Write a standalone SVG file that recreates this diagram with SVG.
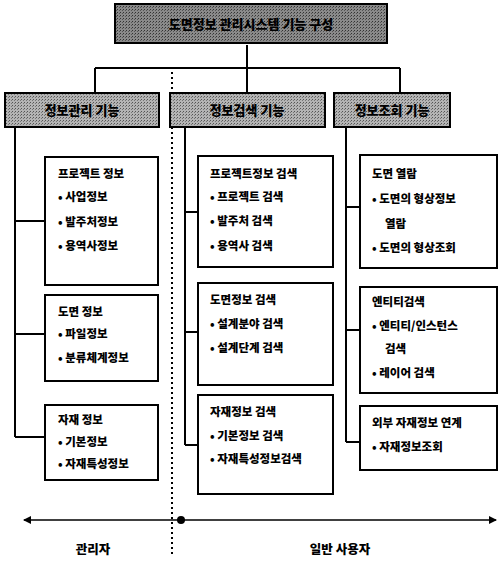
<svg xmlns="http://www.w3.org/2000/svg" width="500" height="561" viewBox="0 0 500 561">
<defs>
<pattern id="dots" width="3" height="3" patternUnits="userSpaceOnUse">
<rect width="3" height="3" fill="#b4b4b4"/>
<rect x="0" y="0" width="1" height="1" fill="#555"/>
<rect x="2" y="1" width="1" height="1" fill="#777"/>
</pattern>
<pattern id="dots2" width="3" height="3" patternUnits="userSpaceOnUse">
<rect width="3" height="3" fill="#8a8a8a"/>
<rect x="0" y="0" width="1" height="1" fill="#333"/>
<rect x="2" y="1" width="1" height="1" fill="#555"/>
</pattern>
<marker id="arr" markerWidth="8" markerHeight="8" refX="7" refY="4" orient="auto-start-reverse" markerUnits="userSpaceOnUse">
<path d="M0,0 L8,4 L0,8 Z" fill="#000"/>
</marker>
</defs>
<style>
text{font-family:"Noto Sans CJK KR","Noto Sans",sans-serif;font-weight:900;fill:#000}
.t{font-size:11.5px}
.h{font-size:13px;fill:#000}
.box{fill:#fff;stroke:#000;stroke-width:2}
.hdr{fill:url(#dots);stroke:#000;stroke-width:2}
.ln{fill:none;stroke:#000;stroke-width:2}
.lab{font-size:12.5px}
</style>

<g id="connectors">
<path class="ln" d="M247,45 V68 M95,68 H400 M95,68 V93 M247,68 V93 M400,68 V93"/>
<path class="ln" d="M15,127 V437 M15,221 H45 M15,334 H45 M15,437 H45"/>
<path class="ln" d="M185,127 V445 M185,212 H198 M185,332 H198 M185,445 H198"/>
<path class="ln" d="M346,127 V442 M346,207 H360 M346,330 H360 M346,442 H360"/>
<line x1="172" y1="72" x2="172" y2="556" stroke="#000" stroke-width="2" stroke-dasharray="2,3"/>
<line x1="24" y1="520" x2="496" y2="520" stroke="#000" stroke-width="1.5" marker-start="url(#arr)" marker-end="url(#arr)"/>
<circle cx="181" cy="520" r="4" fill="#000"/>
</g>

<g id="title">
<rect x="115" y="4" width="272" height="39" fill="url(#dots2)" stroke="#000" stroke-width="2"/>
<text class="h" x="251" y="29" text-anchor="middle">도면정보 관리시스템 기능 구성</text>
</g>

<g id="hdr-left">
<rect class="hdr" x="5" y="93" width="154" height="34"/>
<text class="h" x="82" y="115" text-anchor="middle">정보관리 기능</text>
</g>
<g id="hdr-mid">
<rect class="hdr" x="170" y="93" width="155" height="34"/>
<text class="h" x="247" y="115" text-anchor="middle">정보검색 기능</text>
</g>
<g id="hdr-right">
<rect class="hdr" x="334" y="93" width="116" height="34"/>
<text class="h" x="392" y="115" text-anchor="middle">정보조회 기능</text>
</g>

<g id="l1">
<rect class="box" x="45" y="157" width="113" height="128"/>
<text class="t" x="58" y="178">프로젝트 정보</text>
<text class="t" x="58" y="201">•  사업정보</text>
<text class="t" x="58" y="226">•  발주처정보</text>
<text class="t" x="58" y="250">•  용역사정보</text>
</g>
<g id="l2">
<rect class="box" x="45" y="295" width="113" height="86"/>
<text class="t" x="58" y="316">도면 정보</text>
<text class="t" x="58" y="338">•  파일정보</text>
<text class="t" x="58" y="362">•  분류체계정보</text>
</g>
<g id="l3">
<rect class="box" x="45" y="405" width="113" height="75"/>
<text class="t" x="58" y="424">자재 정보</text>
<text class="t" x="58" y="446">•  기본정보</text>
<text class="t" x="58" y="468">•  자재특성정보</text>
</g>

<g id="m1">
<rect class="box" x="198" y="156" width="135" height="111"/>
<text class="t" x="210" y="178">프로젝트정보 검색</text>
<text class="t" x="210" y="201">•  프로젝트 검색</text>
<text class="t" x="210" y="225">•  발주처 검색</text>
<text class="t" x="210" y="250">•  용역사 검색</text>
</g>
<g id="m2">
<rect class="box" x="198" y="283" width="135" height="102"/>
<text class="t" x="210" y="304">도면정보 검색</text>
<text class="t" x="210" y="328">•  설계분야 검색</text>
<text class="t" x="210" y="352">•  설계단계 검색</text>
</g>
<g id="m3">
<rect class="box" x="198" y="395" width="135" height="99"/>
<text class="t" x="210" y="416">자재정보 검색</text>
<text class="t" x="210" y="440">•  기본정보 검색</text>
<text class="t" x="210" y="463">•  자재특성정보검색</text>
</g>

<g id="r1">
<rect class="box" x="360" y="155" width="137" height="113"/>
<text class="t" x="372" y="178">도면 열람</text>
<text class="t" x="372" y="203">•  도면의 형상정보</text>
<text class="t" x="385" y="228">열람</text>
<text class="t" x="372" y="252">•  도면의 형상조회</text>
</g>
<g id="r2">
<rect class="box" x="360" y="287" width="137" height="106"/>
<text class="t" x="372" y="306">엔티티검색</text>
<text class="t" x="372" y="330">•  엔티티/인스턴스</text>
<text class="t" x="385" y="353">검색</text>
<text class="t" x="372" y="377">•  레이어 검색</text>
</g>
<g id="r3">
<rect class="box" x="360" y="406" width="137" height="64"/>
<text class="t" x="372" y="427">외부 자재정보 연계</text>
<text class="t" x="372" y="451">•  자재정보조회</text>
</g>

<g id="labels">
<text class="lab" x="93" y="554" text-anchor="middle">관리자</text>
<text class="lab" x="340" y="554" text-anchor="middle">일반 사용자</text>
</g>
</svg>
